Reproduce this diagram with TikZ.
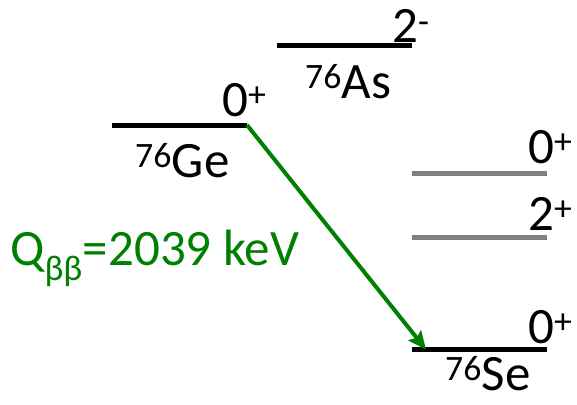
\documentclass[tikz,border=0pt]{standalone}
\usepackage{fontspec}
\setmainfont{Carlito}
\usetikzlibrary{arrows.meta}
\definecolor{qgreen}{RGB}{0,128,0}
\tikzset{
  level/.style={line width=5pt},
  excited/.style={line width=5pt,gray},
  lab/.style={anchor=base west,inner sep=0pt}
}
\begin{document}
\begin{tikzpicture}[x=1pt,y=-1pt,font=\fontsize{51}{51}\selectfont]
  \useasboundingbox (0,0) rectangle (577,404);
  % levels
  \coordinate (GeL) at (112,125);
  \coordinate (GeR) at (247,125);
  \coordinate (AsL) at (277,46);
  \coordinate (AsR) at (412,46);
  \coordinate (SeL) at (412,349.5);
  \coordinate (SeR) at (547,349.5);
  \coordinate (SeA) at (426,349.5);
  \draw[level] (GeL) -- (GeR);
  \draw[level] (AsL) -- (AsR);
  \draw[excited] (412,173.5) -- (547,173.5);
  \draw[excited] (412,237.5) -- (547,237.5);
  \draw[level] (SeL) -- (SeR);
  % spins
  \node[lab] (ge-spin) at (222,116) {0\textsuperscript{+}};
  \node[lab] (as-spin) at (392,43) {2\textsuperscript{-}};
  \node[lab] (ex0-spin) at (528,163) {0\textsuperscript{+}};
  \node[lab] (ex2-spin) at (528,230) {2\textsuperscript{+}};
  \node[lab] (se-spin) at (528,343) {0\textsuperscript{+}};
  % nuclei
  \node[lab] (ge) at (135,177) {\textsuperscript{76}Ge};
  \node[lab] (as) at (305,98) {\textsuperscript{76}As};
  \node[lab] (se) at (445,390) {\textsuperscript{76}Se};
  % decay
  \draw[qgreen,line width=4pt,-{Stealth[length=18pt,width=16pt,inset=3pt]}] (GeR) -- (SeA);
  \node[lab,text=qgreen] (q) at (10,265) {Q\textsubscript{ββ}=2039 keV};
\end{tikzpicture}
\end{document}
